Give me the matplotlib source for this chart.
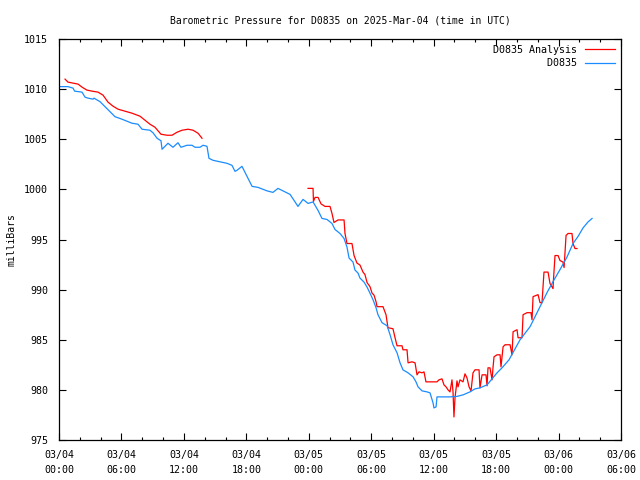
import numpy as np
import pandas as pd
import matplotlib
matplotlib.use("Agg")
import matplotlib.pyplot as plt
import matplotlib.dates as mdates

# ---- data (hours since 2025-03-04 00:00 UTC, pressure in mb) ----
obs_hours = [0.0, 0.58, 0.86, 1.35, 1.5, 2.21, 2.5, 2.79, 3.27, 3.36, 3.94, 4.42, 4.90, 5.38,
             6.05, 7.01, 7.59, 7.98, 8.74, 9.03, 9.42, 9.80, 9.90, 10.19, 10.47, 10.95, 11.43,
             11.72, 12.30, 12.78, 13.07, 13.55, 13.84, 14.22, 14.41, 14.80, 15.47, 16.14, 16.62,
             16.91, 17.10, 17.58, 17.87, 18.55, 19.12, 19.99, 20.56, 21.04, 21.52, 22.20, 22.68,
             22.96, 23.45, 23.93, 24.41, 24.89, 25.27, 25.75, 26.23, 26.52, 27.00, 27.39, 27.67,
             27.87, 28.25, 28.44, 28.73, 28.92, 29.31, 29.60, 29.88, 30.17, 30.46, 30.65, 31.04,
             31.52, 31.81, 32.09, 32.48, 32.77, 33.05, 33.54, 34.02, 34.30, 34.50, 34.88, 35.36,
             35.65, 35.94, 36.03, 36.23, 36.32, 36.90, 37.57, 38.24, 38.82, 39.49, 39.97, 40.45,
             41.13, 41.61, 42.09, 42.57, 43.24, 44.30, 45.26, 46.22, 46.89, 47.47, 48.14, 48.81,
             49.39, 49.87, 50.35, 50.83, 51.22]
obs_mb = [1010.25, 1010.25, 1010.25, 1010.1, 1009.8, 1009.7, 1009.2, 1009.1, 1009.0, 1009.1,
          1008.75, 1008.25, 1007.75, 1007.25, 1007.0, 1006.6, 1006.5, 1006.0, 1005.9, 1005.65,
          1005.1, 1004.85, 1004.0, 1004.3, 1004.6, 1004.2, 1004.65, 1004.2, 1004.4, 1004.4,
          1004.2, 1004.2, 1004.4, 1004.3, 1003.1, 1002.9, 1002.75, 1002.6, 1002.4, 1001.8,
          1001.9, 1002.3, 1001.7, 1000.3, 1000.2, 999.85, 999.7, 1000.1, 999.85, 999.5, 998.75,
          998.3, 999.0, 998.6, 998.75, 997.9, 997.1, 997.0, 996.6, 996.0, 995.6, 995.1, 994.25,
          993.15, 992.75, 991.95, 991.65, 991.15, 990.75, 990.25, 989.65, 989.0, 988.2, 987.5,
          986.7, 986.4, 985.5, 984.5, 983.7, 982.7, 982.0, 981.7, 981.3, 980.8, 980.3, 979.9,
          979.8, 979.7, 978.7, 978.2, 978.3, 979.3, 979.3, 979.3, 979.35, 979.5, 979.8, 980.1,
          980.2, 980.5, 981.1, 981.7, 982.2, 983.0, 985.0, 986.3, 988.3, 989.7, 990.8, 992.0,
          993.25, 994.6, 995.3, 996.15, 996.75, 997.1]

ana_hours = [0.58, 0.86, 1.35, 1.83, 2.21, 2.69, 3.17, 3.75, 4.23, 4.71, 5.19, 5.67, 6.34, 7.01,
             7.78, 8.26, 8.74, 9.22, 9.80, 10.38, 10.86, 11.34, 11.82, 12.40, 12.88, 13.36, 13.74,
             18.0,
             23.93, 24.41, 24.45, 24.60, 24.89, 25.18, 25.56, 26.04, 26.23, 26.42, 26.81, 27.39,
             27.48, 27.67, 28.15, 28.35, 28.63, 28.92, 29.21, 29.40, 29.60, 29.88, 30.08, 30.27,
             30.46, 30.56, 31.13, 31.42, 31.52, 31.61, 32.09, 32.29, 32.48, 32.96, 33.05, 33.44,
             33.54, 33.92, 34.21, 34.40, 34.59, 34.88, 35.07, 35.26, 35.94, 36.32, 36.51, 36.80,
             36.99, 37.19, 37.38, 37.57, 37.76, 37.86, 37.95, 38.05, 38.24, 38.34, 38.53, 38.82,
             39.01, 39.20, 39.40, 39.59, 39.78, 39.97, 40.36, 40.45, 40.65, 41.03, 41.13, 41.22,
             41.41, 41.61, 41.70, 41.80, 42.09, 42.38, 42.47, 42.67, 42.86, 43.34, 43.53, 43.63,
             44.01, 44.11, 44.49, 44.59, 44.97, 45.35, 45.45, 45.55, 46.03, 46.22, 46.41, 46.60,
             46.99, 47.18, 47.47, 47.50, 47.66, 47.95, 48.14, 48.43, 48.53, 48.62, 48.72, 48.91,
             49.29, 49.39, 49.58, 49.77]
ana_mb = [1011.0, 1010.7, 1010.6, 1010.5, 1010.2, 1009.9, 1009.8, 1009.7, 1009.4, 1008.7, 1008.3,
          1008.0, 1007.8, 1007.6, 1007.3, 1006.9, 1006.5, 1006.2, 1005.5, 1005.4, 1005.4, 1005.7,
          1005.9, 1006.0, 1005.9, 1005.6, 1005.1,
          np.nan,
          1000.1, 1000.1, 998.8, 999.2, 999.2, 998.55, 998.3, 998.3, 997.6, 996.7, 996.95, 996.95,
          995.6, 994.6, 994.6, 993.4, 992.65, 992.45, 991.75, 991.5, 990.7, 990.3, 989.65, 989.45,
          988.8, 988.3, 988.3, 987.5, 986.8, 986.2, 986.1, 985.2, 984.4, 984.4, 984.0, 984.0,
          982.7, 982.8, 982.7, 981.5, 981.8, 981.7, 981.8, 980.8, 980.8, 980.8, 981.0, 981.1,
          980.5, 980.3, 980.0, 979.8, 981.0, 979.8, 977.3, 979.2, 980.9, 980.3, 981.0, 980.8,
          981.6, 981.2, 980.3, 979.9, 981.7, 982.0, 982.0, 980.2, 981.5, 981.5, 980.4, 982.2,
          982.2, 981.0, 982.2, 983.3, 983.5, 983.5, 982.3, 984.3, 984.5, 984.5, 983.5, 985.8,
          986.0, 985.2, 985.2, 987.5, 987.7, 987.7, 987.0, 989.3, 989.5, 988.7, 988.7, 991.75,
          991.75, 990.6, 990.1, 990.8, 993.4, 993.4, 992.9, 992.75, 992.2, 993.75, 995.4, 995.6,
          995.6, 994.6, 994.1, 994.1]

start = pd.Timestamp("2025-03-04 00:00")
end = pd.Timestamp("2025-03-06 06:00")
obs_t = start + pd.to_timedelta(obs_hours, unit="h")
ana_t = start + pd.to_timedelta(ana_hours, unit="h")

title = "Barometric Pressure for D0835 on 2025-Mar-04 (time in UTC)"
ylabel = "milliBars"
ana_label = "D0835 Analysis"
obs_label = "         D0835"

plt.rcParams["font.family"] = ["DejaVu Sans Mono"]
plt.rcParams["font.size"] = 7

fig = plt.figure(figsize=(6.4, 4.8), dpi=100)
ax = fig.add_axes([59 / 640, 1 - 440 / 480, (621 - 59) / 640, (440 - 39) / 480])

ax.plot(ana_t, ana_mb, color="#ff0000", lw=0.9, label=ana_label)
ax.plot(obs_t, obs_mb, color="#1a8cff", lw=0.9, label=obs_label)

ax.set_xlim(start, end)
ax.set_ylim(975, 1015)
ax.set_yticks(np.arange(975, 1016, 5))
ax.xaxis.set_major_locator(mdates.HourLocator(byhour=[0, 6, 12, 18]))
ax.xaxis.set_minor_locator(mdates.HourLocator(interval=2))
ax.xaxis.set_major_formatter(mdates.DateFormatter("%m/%d\n%H:%M"))

ax.tick_params(which="both", direction="in", top=True, right=True, color="black")
ax.tick_params(which="major", length=5, width=0.8, labelsize=7.2, pad=7)
ax.tick_params(which="minor", length=2.5, width=0.8)
ax.tick_params(axis="y", pad=8)
for s in ax.spines.values():
    s.set_linewidth(0.9)
    s.set_color("black")

for lab in ax.get_xticklabels():
    lab.set_linespacing(1.7)

ax.set_title(title, fontsize=7, pad=11)
ax.set_ylabel(ylabel, fontsize=7, labelpad=5)

leg = ax.legend(loc="upper right", frameon=False, markerfirst=False, handlelength=3.0,
                handletextpad=0.8, labelspacing=0.35, borderaxespad=0.2, fontsize=7.2)

fig.savefig("out.png", dpi=100)
